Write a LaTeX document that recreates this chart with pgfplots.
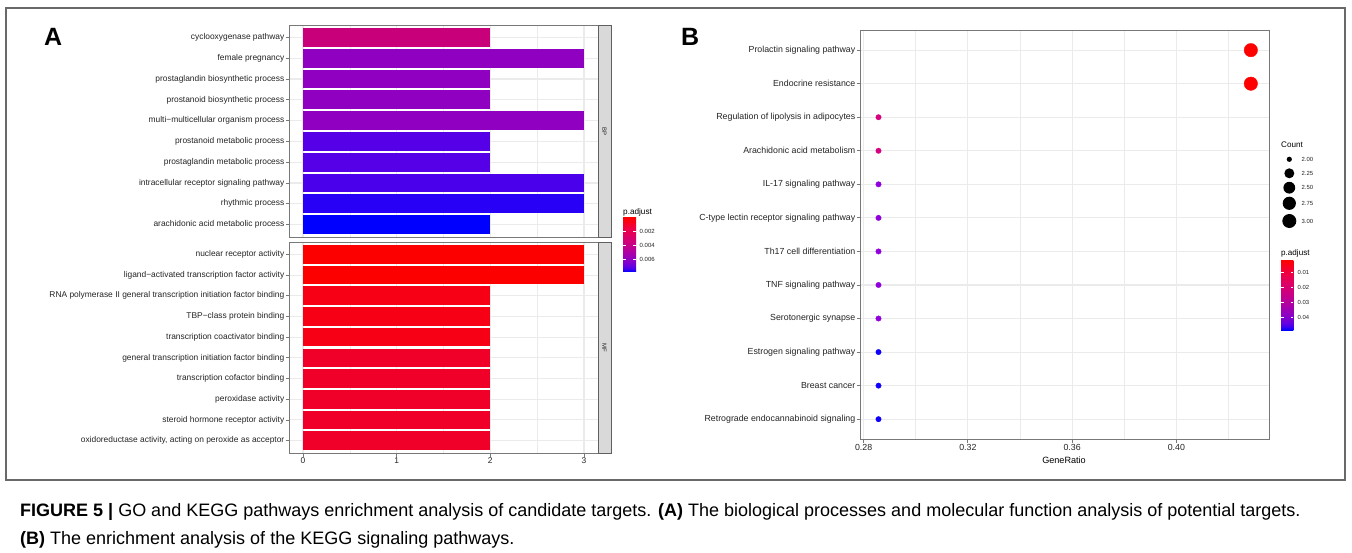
\documentclass[border=0pt]{standalone}
\usepackage{pgfplots}
\pgfplotsset{compat=1.18}
\usepackage{fontspec}
\setmainfont{Liberation Sans}

\definecolor{bordergray}{RGB}{120,120,120}
\definecolor{gridgray}{RGB}{235,235,235}
\definecolor{labgray}{RGB}{35,35,35}
\definecolor{framegray}{RGB}{105,105,105}
\definecolor{stripfill}{RGB}{217,217,217}
\definecolor{stripdraw}{RGB}{95,95,95}
% colour scale red (low p.adjust) -> blue (high p.adjust)
\definecolor{cs0}{RGB}{255,0,0}
\definecolor{cs20}{RGB}{238,0,70}
\definecolor{cs40}{RGB}{214,0,115}
\definecolor{cs60}{RGB}{182,0,157}
\definecolor{cs80}{RGB}{137,0,200}
\definecolor{cs90}{RGB}{100,0,225}
\definecolor{cs95}{RGB}{65,0,240}
\definecolor{cs100}{RGB}{0,0,255}
\pgfdeclareverticalshading{padj}{100bp}{color(0bp)=(cs100); color(25bp)=(cs100); color(27.5bp)=(cs95); color(30bp)=(cs90); color(35bp)=(cs80); color(45bp)=(cs60); color(55bp)=(cs40); color(65bp)=(cs20); color(75bp)=(cs0); color(100bp)=(cs0)}

% bar colours, panel A
\definecolor{bp1}{RGB}{200,0,122}
\definecolor{bp2}{RGB}{143,0,192}
\definecolor{bp6}{RGB}{85,0,230}
\definecolor{bp8}{RGB}{75,0,236}
\definecolor{bp9}{RGB}{40,0,246}
\definecolor{bp10}{RGB}{0,0,255}
\definecolor{mf1}{RGB}{252,0,0}
\definecolor{mf3}{RGB}{247,0,22}
\definecolor{mf6}{RGB}{240,0,40}
% dot colours, panel B
\definecolor{kred}{RGB}{255,0,0}
\definecolor{kmag}{RGB}{215,0,128}
\definecolor{kpur}{RGB}{145,0,220}
\definecolor{kblu}{RGB}{15,0,250}

\newcommand{\fsA}{\fontsize{8.4}{10}\selectfont}
\newcommand{\fsB}{\fontsize{8.8}{10}\selectfont}

\pgfplotsset{
  gg/.style={
    scale only axis,
    axis line style={draw=bordergray, line width=0.9pt},
    tick align=outside,
    major tick length=3.5pt,
    minor tick length=0pt,
    tick style={draw=bordergray, line width=0.8pt},
    xmajorgrids, ymajorgrids, xminorgrids,
    major grid style={draw=gridgray, line width=1.1pt},
    minor grid style={draw=gridgray, line width=0.55pt},
    y dir=reverse,
    ytick pos=left, xtick pos=bottom,
    tick label style={text=labgray},
    /pgf/number format/assume math mode=true,
  },
  hbar/.style={xbar, bar width=0.9, bar shift=0pt, draw=none},
}

\begin{document}
\begin{tikzpicture}
\path[use as bounding box] (0pt,0pt) rectangle (1352pt,-552pt);
\draw[framegray, line width=1.3pt] (6pt,-8pt) rectangle (1345pt,-480pt);

% ---------------- Panel A, BP facet ----------------
\begin{axis}[gg, at={(289pt,-25pt)}, anchor=north west, width=309pt, height=212pt,
  xmin=-0.15, xmax=3.15, ymin=0.4, ymax=10.6,
  xtick={0,1,2,3}, xticklabels={}, minor xtick={0.5,1.5,2.5}, xtick style={draw=none},
  ytick={1,...,10},
  yticklabel style={font=\fsA, inner sep=1pt},
  yticklabels={cyclooxygenase pathway, female pregnancy, prostaglandin biosynthetic process, prostanoid biosynthetic process, multi−multicellular organism process, prostanoid metabolic process, prostaglandin metabolic process, intracellular receptor signaling pathway, rhythmic process, arachidonic acid metabolic process}]
\addplot[hbar, fill=bp1]  coordinates {(2,1)};
\addplot[hbar, fill=bp2]  coordinates {(3,2)};
\addplot[hbar, fill=bp2]  coordinates {(2,3)};
\addplot[hbar, fill=bp2]  coordinates {(2,4)};
\addplot[hbar, fill=bp2]  coordinates {(3,5)};
\addplot[hbar, fill=bp6]  coordinates {(2,6)};
\addplot[hbar, fill=bp6]  coordinates {(2,7)};
\addplot[hbar, fill=bp8]  coordinates {(3,8)};
\addplot[hbar, fill=bp9]  coordinates {(3,9)};
\addplot[hbar, fill=bp10] coordinates {(2,10)};
\end{axis}

% ---------------- Panel A, MF facet ----------------
\begin{axis}[gg, at={(289pt,-242pt)}, anchor=north west, width=309pt, height=211pt,
  xmin=-0.15, xmax=3.15, ymin=0.4, ymax=10.6,
  xtick={0,1,2,3}, minor xtick={0.5,1.5,2.5},
  xticklabel style={font=\fsA, inner sep=1pt},
  ytick={1,...,10},
  yticklabel style={font=\fsA, inner sep=1pt},
  yticklabels={nuclear receptor activity, ligand−activated transcription factor activity, RNA polymerase II general transcription initiation factor binding, TBP−class protein binding, transcription coactivator binding, general transcription initiation factor binding, transcription cofactor binding, peroxidase activity, steroid hormone receptor activity, {oxidoreductase activity, acting on peroxide as acceptor}}]
\addplot[hbar, fill=mf1] coordinates {(3,1)};
\addplot[hbar, fill=mf1] coordinates {(3,2)};
\addplot[hbar, fill=mf3] coordinates {(2,3)};
\addplot[hbar, fill=mf3] coordinates {(2,4)};
\addplot[hbar, fill=mf3] coordinates {(2,5)};
\addplot[hbar, fill=mf6] coordinates {(2,6)};
\addplot[hbar, fill=mf6] coordinates {(2,7)};
\addplot[hbar, fill=mf6] coordinates {(2,8)};
\addplot[hbar, fill=mf6] coordinates {(2,9)};
\addplot[hbar, fill=mf6] coordinates {(2,10)};
\end{axis}

% ---------------- Panel B ----------------
\begin{axis}[gg, at={(860pt,-30pt)}, anchor=north west, width=409.6pt, height=409.3pt,
  xmin=0.2786, xmax=0.4358, ymin=0.4, ymax=12.6,
  xtick={0.28,0.32,0.36,0.40}, xticklabels={0.28,0.32,0.36,0.40},
  minor xtick={0.30,0.34,0.38,0.42},
  xticklabel style={font=\fsB, inner sep=1pt},
  ytick={1,...,12},
  yticklabel style={font=\fsB, inner sep=1pt},
  yticklabels={Prolactin signaling pathway, Endocrine resistance, Regulation of lipolysis in adipocytes, Arachidonic acid metabolism, IL-17 signaling pathway, C-type lectin receptor signaling pathway, Th17 cell differentiation, TNF signaling pathway, Serotonergic synapse, Estrogen signaling pathway, Breast cancer, Retrograde endocannabinoid signaling}]
\addplot[only marks, mark=*, mark size=6.7pt, color=kred] coordinates {(0.4286,1) (0.4286,2)};
\addplot[only marks, mark=*, mark size=2.7pt, color=kmag] coordinates {(0.2857,3) (0.2857,4)};
\addplot[only marks, mark=*, mark size=2.7pt, color=kpur] coordinates {(0.2857,5) (0.2857,6) (0.2857,7) (0.2857,8) (0.2857,9)};
\addplot[only marks, mark=*, mark size=2.7pt, color=kblu] coordinates {(0.2857,10) (0.2857,11) (0.2857,12)};
\end{axis}

\begin{scope}[x=1pt, y=-1pt]
% facet strips
\draw[fill=stripfill, draw=stripdraw, line width=0.9pt] (598,25) rectangle (611,237);
\draw[fill=stripfill, draw=stripdraw, line width=0.9pt] (598,242) rectangle (611,453);
\node[rotate=-90, font=\fontsize{6}{7}\selectfont, text=labgray, inner sep=0] at (604.5,131) {BP};
\node[rotate=-90, font=\fontsize{6}{7}\selectfont, text=labgray, inner sep=0] at (604.5,347.5) {MF};

% panel letters
\node[anchor=base west, inner sep=0, font=\bfseries\fontsize{25}{30}\selectfont] at (44,45) {A};
\node[anchor=base west, inner sep=0, font=\bfseries\fontsize{25}{30}\selectfont] at (681,45) {B};

% legend of panel A
\node[anchor=base west, inner sep=0, font=\fontsize{8.2}{9}\selectfont] at (623,214.5) {p.adjust};
\shade[shading=padj] (623,217.7) rectangle (636,271.7);
\foreach \yy/\lab in {231.7/0.002, 245.7/0.004, 259.7/0.006} {
  \draw[white, line width=0.6pt] (623,\yy) -- (625.6,\yy);
  \draw[white, line width=0.6pt] (633.4,\yy) -- (636,\yy);
  \node[anchor=west, inner sep=0, font=\fontsize{6}{7}\selectfont, text=labgray] at (639.5,\yy) {\lab};
}

% x label of panel B
\node[font=\fontsize{9.1}{10}\selectfont, inner sep=0] at (1064,460.4) {GeneRatio};

% size legend of panel B
\node[anchor=base west, inner sep=0, font=\fontsize{8.1}{9}\selectfont] at (1281,147) {Count};
\foreach \yy/\rr/\lab in {159.3/2.6/2.00, 173.3/5.0/2.25, 187.7/5.9/2.50, 203.3/6.6/2.75, 221/7.0/3.00} {
  \fill[black] (1289.3,\yy) circle (\rr);
  \node[anchor=west, inner sep=0, font=\fontsize{5.9}{7}\selectfont, text=labgray] at (1301.5,\yy) {\lab};
}
% colour legend of panel B
\node[anchor=base west, inner sep=0, font=\fontsize{8.1}{9}\selectfont] at (1281,255) {p.adjust};
\shade[shading=padj] (1281,260) rectangle (1293.3,330);
\foreach \yy/\lab in {272.7/0.01, 287.7/0.02, 302.7/0.03, 317.7/0.04} {
  \draw[white, line width=0.6pt] (1281,\yy) -- (1283.5,\yy);
  \draw[white, line width=0.6pt] (1290.8,\yy) -- (1293.3,\yy);
  \node[anchor=west, inner sep=0, font=\fontsize{5.9}{7}\selectfont, text=labgray] at (1297.5,\yy) {\lab};
}

% caption
\node[anchor=base west, inner sep=0, font=\fontsize{18}{20}\selectfont] at (20,516.5)
  {\textbf{FIGURE 5 |} GO and KEGG pathways enrichment analysis of candidate targets. \textbf{(A)} The biological processes and molecular function analysis of potential targets.};
\node[anchor=base west, inner sep=0, font=\fontsize{18}{20}\selectfont] at (20,544.5)
  {\textbf{(B)} The enrichment analysis of the KEGG signaling pathways.};
\end{scope}
\end{tikzpicture}
\end{document}
